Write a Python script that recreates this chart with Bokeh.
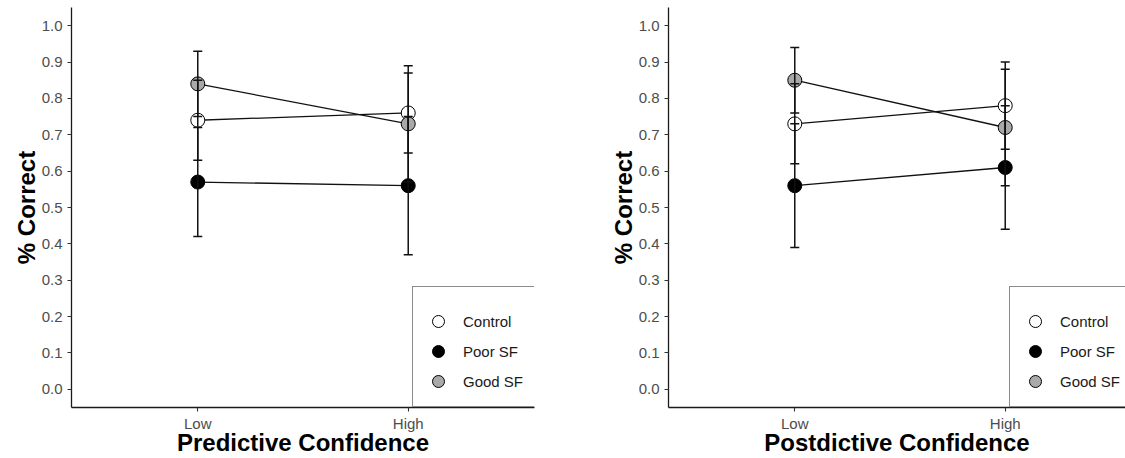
from bokeh.plotting import figure
from bokeh.models import (Range1d, FixedTicker, PrintfTickFormatter, Whisker, TeeHead,
                          ColumnDataSource, Legend, LegendItem)
from bokeh.layouts import row
from bokeh.embed import file_html
from bokeh.resources import INLINE

# ---------------- data ----------------
conf_levels = ["Low", "High"]
groups = ["Control", "Poor SF", "Good SF"]

pred_control = [0.74, 0.76]
pred_control_err = [0.11, 0.11]
pred_poor = [0.57, 0.56]
pred_poor_err = [0.15, 0.19]
pred_good = [0.84, 0.73]
pred_good_err = [0.09, 0.16]

post_control = [0.73, 0.78]
post_control_err = [0.11, 0.12]
post_poor = [0.56, 0.61]
post_poor_err = [0.17, 0.17]
post_good = [0.85, 0.72]
post_good_err = [0.09, 0.16]

y_ticks = [0.0, 0.1, 0.2, 0.3, 0.4, 0.5, 0.6, 0.7, 0.8, 0.9, 1.0]

# ---------------- style ----------------
FILLS = {"Control": "#ffffff", "Poor SF": "#000000", "Good SF": "#a9a9a9"}
FONT = "Liberation Sans"
H = 458
TOP = 7
FRAME_H = 400
Y0, Y1 = -0.05, 1.05


def make_panel(xtitle, means, errs, width, border_left, border_right):
    xs = list(range(1, len(conf_levels) + 1))
    frame_w = width - border_left - border_right
    px_per_unit = 463 / 2.2
    x_start = xs[0] - 0.6
    x_end = x_start + frame_w / px_per_unit

    p = figure(width=width, height=H, output_backend="svg", toolbar_location=None,
               x_range=Range1d(x_start, x_end), y_range=Range1d(Y0, Y1),
               min_border_left=border_left, min_border_right=border_right,
               min_border_top=TOP, min_border_bottom=H - FRAME_H - TOP)
    p.outline_line_color = None
    p.xgrid.visible = False
    p.ygrid.visible = False
    p.background_fill_color = "white"
    p.border_fill_color = "white"

    renderers = {}
    for g in groups:
        p.line(xs, means[g], line_color="#111111", line_width=1.3)
    for g in groups:
        renderers[g] = p.scatter(xs, means[g], marker="circle", size=14,
                                 fill_color=FILLS[g], line_color="black", line_width=1)
    for g in groups:
        src = ColumnDataSource(dict(
            base=xs,
            upper=[m + e for m, e in zip(means[g], errs[g])],
            lower=[m - e for m, e in zip(means[g], errs[g])]))
        w = Whisker(source=src, base="base", upper="upper", lower="lower",
                    dimension="height", line_color="#111111", line_width=1.5,
                    upper_head=TeeHead(size=9, line_color="#111111", line_width=1.5),
                    lower_head=TeeHead(size=9, line_color="#111111", line_width=1.5),
                    level="overlay")
        p.add_layout(w)

    p.xaxis.ticker = FixedTicker(ticks=xs)
    p.xaxis.major_label_overrides = {x: lab for x, lab in zip(xs, conf_levels)}
    p.yaxis.ticker = FixedTicker(ticks=y_ticks)
    p.yaxis.formatter = PrintfTickFormatter(format="%.1f")

    for ax in (p.xaxis[0], p.yaxis[0]):
        ax.axis_line_color = "#1a1a1a"
        ax.axis_line_width = 1.3
        ax.major_tick_line_color = "#333333"
        ax.major_tick_line_width = 1.1
        ax.major_tick_out = 4
        ax.major_tick_in = 0
        ax.minor_tick_out = 0
        ax.minor_tick_in = 0
        ax.major_label_text_color = "#4d4d4d"
        ax.major_label_text_font = FONT
        ax.major_label_text_font_size = "15px"
        ax.axis_label_text_font = FONT
        ax.axis_label_text_font_style = "bold"
        ax.axis_label_text_font_size = "24px"
        ax.axis_label_text_color = "black"
    p.xaxis.major_label_standoff = 3
    p.yaxis.major_label_standoff = 5

    p.yaxis.axis_label = "% Correct"
    p.yaxis.axis_label_standoff = -1
    p.xaxis.axis_label = xtitle
    p.xaxis.axis_label_standoff = -6

    legend = Legend(items=[LegendItem(label=g, renderers=[renderers[g]]) for g in groups],
                    location=(341, 0), margin=0, padding=10, spacing=0,
                    glyph_width=30, glyph_height=30, label_standoff=10,
                    label_width=62, label_height=30,
                    label_text_font=FONT, label_text_font_size="15px",
                    label_text_color="#1a1a1a",
                    title=" ", title_text_font_size="8px", title_standoff=0,
                    border_line_color="#1a1a1a", border_line_width=1.3,
                    background_fill_color="white", background_fill_alpha=1.0)
    p.add_layout(legend)
    return p


pred_means = {"Control": pred_control, "Poor SF": pred_poor, "Good SF": pred_good}
pred_errs = {"Control": pred_control_err, "Poor SF": pred_poor_err, "Good SF": pred_good_err}
post_means = {"Control": post_control, "Poor SF": post_poor, "Good SF": post_good}
post_errs = {"Control": post_control_err, "Poor SF": post_poor_err, "Good SF": post_good_err}

p1 = make_panel("Predictive Confidence", pred_means, pred_errs, 600, 71, 66)
p2 = make_panel("Postdictive Confidence", post_means, post_errs, 525, 68, 0)

layout = row(p1, p2)
open("out.html", "w").write(file_html(layout, INLINE))
